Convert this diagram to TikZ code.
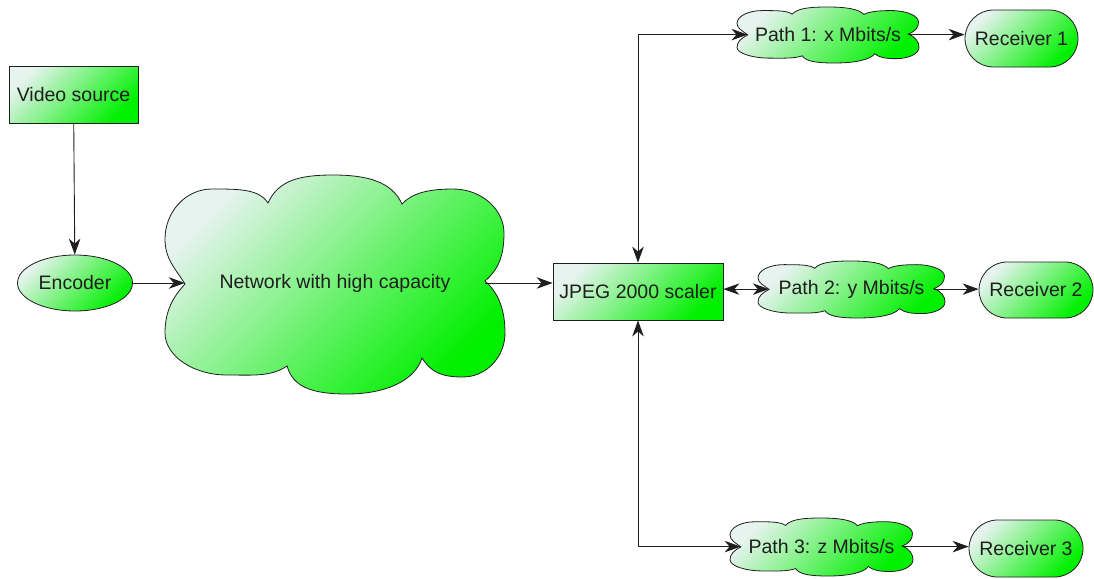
\documentclass[tikz,border=0pt]{standalone}
\usepackage{fontspec}
\setmainfont{Liberation Sans}
\usetikzlibrary{shapes.misc,shapes.geometric,arrows.meta}
\definecolor{gl}{RGB}{230,243,238}
\definecolor{gd}{RGB}{0,240,0}
\definecolor{edgec}{RGB}{30,30,30}
\definecolor{txtc}{RGB}{30,30,30}
% cloud outline in a 340 x 219 frame (y downwards)
\newcommand\mycloudpath{(20,109)
  .. controls (10,93) and (0,84) .. (0,64)
  .. controls (0,37.5) and (20,14) .. (47,14)
  .. controls (74,14) and (94,14) .. (103,28)
  .. controls (113,6) and (133,0) .. (168,0)
  .. controls (203,0) and (227,7) .. (237,29)
  .. controls (247,18) and (264,14) .. (288,14)
  .. controls (317,14) and (339,34.8) .. (339,58)
  .. controls (339,80) and (334,94) .. (320,106)
  .. controls (334,118) and (340,136) .. (340,158)
  .. controls (340,182) and (321.2,202) .. (298,202)
  .. controls (276,202) and (266,197) .. (257,183)
  .. controls (250,205) and (222,219) .. (182,219)
  .. controls (147,219) and (128,212) .. (122,191)
  .. controls (106,202) and (87,200) .. (62,200)
  .. controls (27.8,200) and (0,180.6) .. (0,158)
  .. controls (0,136) and (8,122) .. (20,109) -- cycle}
% name, left, top, width, height, text
\newcommand\mycloud[6]{%
  \begin{scope}[shift={(#2,#3)}, xscale=#4/340, yscale=#5/219]
    \path[fillg] \mycloudpath;
  \end{scope}
  \node[cloudlabel, minimum width={#4/340*300}] (#1) at ({#2+#4/2},{#3+#5/219*108}) {#6};
}
\begin{document}
\begin{tikzpicture}[x=1pt,y=-1pt,
  fillg/.style={draw=edgec, line width=0.8pt, top color=gl, bottom color=gd, shading angle=45,
    text=txtc, font=\fontsize{19.5}{23}\selectfont, inner sep=0pt},
  boxnode/.style={fillg, rectangle},
  ellnode/.style={fillg, ellipse},
  recnode/.style={fillg, rounded rectangle},
  cloudlabel/.style={rectangle, inner sep=0pt, text=txtc, font=\fontsize{19.5}{23}\selectfont},
  arr/.style={draw=edgec, line width=0.9pt, -{Stealth[length=16pt,width=11.5pt,inset=5pt]}},
  dbl/.style={draw=edgec, line width=0.9pt, {Stealth[length=16pt,width=11.5pt,inset=5pt]}-{Stealth[length=16pt,width=11.5pt,inset=5pt]}}
]
\useasboundingbox (0,0) rectangle (1094,578);

\node[boxnode, minimum width=129pt, minimum height=57pt] (vs) at (73.5,94.5) {Video source};
\node[ellnode, minimum width=115pt, minimum height=56pt] (enc) at (75,283) {Encoder};
\mycloud{net}{165}{175}{340}{219}{Network with high capacity}
\node[boxnode, minimum width=170pt, minimum height=57pt] (jp) at (638,291.5) {JPEG 2000 scaler};

\mycloud{p1}{737}{7}{182}{56}{Path 1: x Mbits/s}
\mycloud{p2}{758}{261}{187}{57}{Path 2: y Mbits/s}
\mycloud{p3}{730}{518}{183}{58}{Path 3: z Mbits/s}

\node[recnode, minimum width=113pt, minimum height=57pt] (r1) at (1021.5,38.5) {Receiver 1};
\node[recnode, minimum width=114pt, minimum height=56pt] (r2) at (1036,290) {Receiver 2};
\node[recnode, minimum width=114pt, minimum height=57pt] (r3) at (1026,548.5) {Receiver 3};

\draw[arr] (vs) -- (enc);
\draw[arr] (enc.east) -- (enc.east -| net.west);
\draw[arr] (enc.east -| net.east) -- (enc.east -| jp.west);
\draw[dbl] (jp.north) |- (p1.west);
\draw[dbl] (jp.south) |- (p3.west);
\draw[dbl] (jp.east |- p2.west) -- (p2.west);
\draw[arr] (p1.east) -- (p1.east -| r1.west);
\draw[arr] (p2.east) -- (p2.east -| r2.west);
\draw[arr] (p3.east) -- (p3.east -| r3.west);
\end{tikzpicture}
\end{document}
